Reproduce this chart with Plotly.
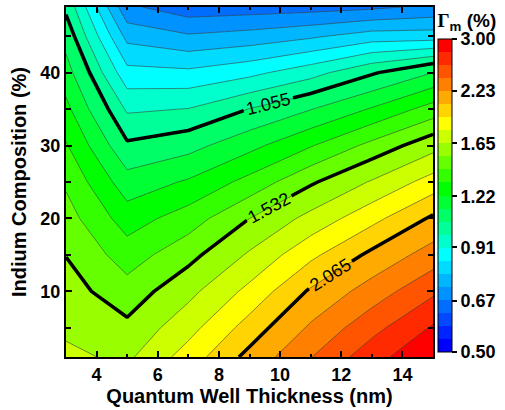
import math
import colorsys
import numpy as np
import plotly.graph_objects as go

# ---------------- data ----------------
thickness_nm = [3, 5, 7, 9, 11, 13, 15]
indium_pct = [1, 5, 10, 15, 20, 25, 30, 35, 40, 45, 49]

# Gamma_m (%) for each quantum-well thickness, listed along indium_pct
gamma_3nm = [1.676, 1.630, 1.579, 1.529, 1.468, 1.406, 1.329, 1.250, 1.176, 1.101, 1.039]
gamma_5nm = [1.627, 1.559, 1.466, 1.371, 1.273, 1.173, 1.068, 0.968, 0.864, 0.764, 0.684]
gamma_7nm = [1.840, 1.732, 1.616, 1.494, 1.369, 1.236, 1.107, 0.981, 0.857, 0.733, 0.644]
gamma_9nm = [2.112, 1.979, 1.817, 1.668, 1.532, 1.353, 1.197, 1.057, 0.890, 0.748, 0.649]
gamma_11nm = [2.391, 2.252, 2.087, 1.883, 1.690, 1.515, 1.312, 1.133, 0.951, 0.773, 0.654]
gamma_13nm = [2.702, 2.521, 2.303, 2.101, 1.873, 1.663, 1.454, 1.233, 1.045, 0.810, 0.664]
gamma_15nm = [2.989, 2.809, 2.548, 2.303, 2.090, 1.837, 1.607, 1.363, 1.137, 0.812, 0.684]

cbar_ticks = [0.50, 0.67, 0.91, 1.22, 1.65, 2.23, 3.00]
cbar_ticktext = ["0.50", "0.67", "0.91", "1.22", "1.65", "2.23", "3.00"]
labeled_levels = [1.055, 1.532, 2.065]
gamma_min, gamma_max, n_bands = 0.50, 3.00, 24

# ---------------- build ----------------
columns = [gamma_3nm, gamma_5nm, gamma_7nm, gamma_9nm, gamma_11nm, gamma_13nm, gamma_15nm]
z_lin = np.array(columns).T          # rows = indium, cols = thickness
z_log = np.log(z_lin)

lo, hi = math.log(gamma_min), math.log(gamma_max)
step = (hi - lo) / n_bands

# band colours: blue -> cyan -> green -> yellow -> red
anchors = [(0, 240), (7, 180), (12, 120), (17, 60), (23, 0)]


def band_hue(i):
    for (a, ha), (b, hb) in zip(anchors[:-1], anchors[1:]):
        if a <= i <= b:
            return ha + (hb - ha) * (i - a) / (b - a)
    return 0


def rgb(h):
    r, g, b = colorsys.hsv_to_rgb(h / 360.0, 1, 1)
    return "rgb(%d,%d,%d)" % (round(r * 255), round(g * 255), round(b * 255))


band_cols = [rgb(band_hue(i)) for i in range(n_bands)]

# colourscale for the contour fill (plotly samples band i at (i+1)/(n_levels))
nlev = n_bands + 1
fill_scale = [[0.0, band_cols[0]]]
for i, c in enumerate(band_cols):
    fill_scale.append([(i + 1) / nlev, c])
fill_scale.append([1.0, band_cols[-1]])

# stepped colourscale for the colour bar (exactly 24 bands from 0.50 to 3.00)
bar_scale = []
for i, c in enumerate(band_cols):
    bar_scale.append([i / n_bands, c])
    bar_scale.append([(i + 1) / n_bands, c])

FONT = "Liberation Sans, Arial, sans-serif"

fig = go.Figure()
fig.add_trace(go.Contour(
    x=thickness_nm, y=indium_pct, z=z_log,
    autocontour=False,
    contours=dict(start=lo, end=hi, size=step, coloring="fill"),
    colorscale=fill_scale,
    line=dict(color="#3c3c3c", width=0.6, smoothing=0),
    hoverinfo="skip",
    showscale=False,
))

for lv in labeled_levels:
    fig.add_trace(go.Contour(
        x=thickness_nm, y=indium_pct, z=z_lin,
        autocontour=False,
        contours=dict(start=lv, end=lv, size=1, coloring="none",
                      showlabels=True, labelformat=".3f",
                      labelfont=dict(family=FONT, size=18, color="black")),
        line=dict(color="black", width=3.5, smoothing=0),
        showscale=False, hoverinfo="skip",
    ))

# invisible carrier for the discrete colour bar
fig.add_trace(go.Scatter(
    x=[thickness_nm[0]], y=[indium_pct[0]], mode="markers",
    hoverinfo="skip",
    marker=dict(
        size=1, opacity=0, color=[z_log[0, 0]], cmin=lo, cmax=hi,
        colorscale=bar_scale, showscale=True,
        colorbar=dict(
            x=(438 - 66) / 367, xanchor="left", xpad=0,
            y=(357 - 352) / 352, yanchor="bottom", ypad=0,
            len=(352 - 8) / 352, lenmode="fraction",
            thickness=14, thicknessmode="pixels",
            outlinewidth=1, outlinecolor="black",
            tickmode="array", tickvals=[math.log(t) for t in cbar_ticks], ticktext=cbar_ticktext,
            ticks="outside", ticklen=5, tickwidth=1.5, tickcolor="black",
            tickfont=dict(family=FONT, size=18, color="black", weight="bold"),
            title=dict(text="<span style='font-family:Liberation Serif'>Γ</span><sub>m</sub> (%)",
                       side="top",
                       font=dict(family=FONT, size=19, color="black", weight="bold")),
        ),
    ),
))

axis_common = dict(
    showline=True, linewidth=2, linecolor="black", mirror="ticks",
    ticks="inside", ticklen=6, tickwidth=2, tickcolor="black",
    showgrid=False, zeroline=False,
    tickfont=dict(family=FONT, size=18, color="black", weight="bold"),
)

fig.update_xaxes(
    range=[3, 15], tickmode="array", tickvals=[4, 6, 8, 10, 12, 14],
    minor=dict(ticks="inside", dtick=1, tick0=3, ticklen=3, tickwidth=1.5, tickcolor="black"),
    title=dict(text="Quantum Well Thickness (nm)", standoff=2,
               font=dict(family=FONT, size=20, color="black", weight="bold")),
    **axis_common,
)
fig.update_yaxes(
    range=[1, 49], tickmode="array", tickvals=[10, 20, 30, 40],
    minor=dict(ticks="inside", dtick=5, tick0=0, ticklen=5, tickwidth=1.5, tickcolor="black"),
    title=dict(text="Indium Composition (%)", standoff=8,
               font=dict(family=FONT, size=20, color="black", weight="bold")),
    **axis_common,
)

fig.update_layout(
    width=505, height=410,
    margin=dict(l=66, r=72, t=5, b=53),
    plot_bgcolor="white", paper_bgcolor="white",
    font=dict(family=FONT, size=18, color="black"),
    showlegend=False,
)

fig.write_html("out.html")
